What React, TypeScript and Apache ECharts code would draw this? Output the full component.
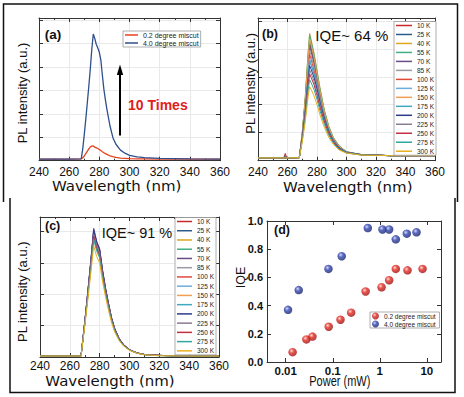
import React, { useEffect, useRef } from "react";
import * as echarts from "echarts";

const FONT = "Liberation Sans, Arial, sans-serif";
const WIDE = "DejaVu Sans, Verdana, sans-serif";

// ---------- panel (a) ----------
const WL_A = [240, 250, 260, 268, 269, 270, 271, 272, 273, 274, 275, 276, 277, 278, 279, 280, 281, 282, 283, 284, 285, 287, 289, 291, 294, 297, 300, 305, 310, 320, 340, 360];
const MISCUT_02 = [0.07, 0.07, 0.07, 0.08, 0.12, 0.2, 0.3, 0.4, 0.5, 0.58, 0.63, 0.62, 0.58, 0.55, 0.52, 0.48, 0.43, 0.38, 0.34, 0.3, 0.27, 0.21, 0.17, 0.14, 0.11, 0.1, 0.09, 0.08, 0.08, 0.07, 0.07, 0.07];
const MISCUT_40 = [0.07, 0.07, 0.07, 0.08, 0.5, 1.1, 1.75, 2.45, 3.15, 3.9, 4.75, 5.4, 5.2, 4.95, 4.8, 4.62, 4.3, 3.65, 3.05, 2.6, 2.2, 1.5, 0.98, 0.7, 0.45, 0.32, 0.23, 0.16, 0.13, 0.1, 0.08, 0.07];
const NAME_02 = "0.2 degree miscut";
const NAME_40 = "4.0 degree miscut";

// ---------- temperatures (b, c) ----------
const TEMPS = ["10 K", "25 K", "40 K", "55 K", "70 K", "85 K", "100 K", "125 K", "150 K", "175 K", "200 K", "225 K", "250 K", "275 K", "300 K"];
const TEMP_COLORS = ["#c8282a", "#2a5c8a", "#d8a820", "#40b080", "#6a4c88", "#9a9aa6", "#e04a3a", "#6aaee0", "#f0a050", "#40a8c0", "#2c3a8c", "#8a7a90", "#c03040", "#30a8a0", "#e8b020"];

// ---------- panel (b) ----------
const WL_B = [240, 257.5, 258.5, 259.5, 268, 270, 272, 274, 275, 276, 278, 280, 282, 285, 288, 291, 295, 300, 310, 330, 360];
const B_10K = [0.10, 0.10, 0.26, 0.10, 0.11, 0.93, 2.07, 3.59, 4.20, 4.00, 3.55, 2.98, 2.41, 1.67, 1.14, 0.78, 0.50, 0.30, 0.21, 0.18, 0.18];
const B_25K = [0.10, 0.10, 0.18, 0.10, 0.11, 0.95, 2.12, 3.67, 4.30, 4.09, 3.63, 3.05, 2.47, 1.71, 1.17, 0.80, 0.51, 0.31, 0.21, 0.18, 0.18];
const B_40K = [0.10, 0.10, 0.10, 0.10, 0.11, 1.00, 2.24, 3.88, 4.55, 4.33, 3.84, 3.23, 2.61, 1.81, 1.23, 0.84, 0.53, 0.32, 0.22, 0.18, 0.18];
const B_55K = [0.10, 0.10, 0.10, 0.10, 0.11, 0.99, 2.22, 3.84, 4.50, 4.28, 3.80, 3.19, 2.58, 1.79, 1.22, 0.83, 0.53, 0.32, 0.22, 0.18, 0.18];
const B_70K = [0.10, 0.10, 0.10, 0.10, 0.11, 0.91, 2.03, 3.50, 4.10, 3.90, 3.46, 2.91, 2.35, 1.64, 1.12, 0.77, 0.49, 0.30, 0.21, 0.18, 0.18];
const B_85K = [0.10, 0.10, 0.10, 0.10, 0.11, 0.88, 1.95, 3.37, 3.95, 3.76, 3.34, 2.81, 2.27, 1.58, 1.08, 0.74, 0.48, 0.29, 0.21, 0.18, 0.18];
const B_100K = [0.10, 0.10, 0.10, 0.10, 0.11, 0.85, 1.88, 3.25, 3.80, 3.62, 3.21, 2.70, 2.19, 1.52, 1.04, 0.72, 0.46, 0.29, 0.21, 0.18, 0.18];
const B_125K = [0.10, 0.10, 0.10, 0.10, 0.11, 0.82, 1.81, 3.12, 3.65, 3.47, 3.08, 2.60, 2.10, 1.47, 1.01, 0.70, 0.45, 0.28, 0.20, 0.18, 0.18];
const B_150K = [0.10, 0.10, 0.10, 0.10, 0.11, 0.96, 2.15, 3.71, 4.35, 4.14, 3.67, 3.09, 2.49, 1.73, 1.18, 0.81, 0.51, 0.31, 0.21, 0.18, 0.18];
const B_175K = [0.10, 0.10, 0.10, 0.10, 0.11, 0.87, 1.83, 3.07, 3.55, 3.41, 3.10, 2.67, 2.18, 1.57, 1.08, 0.75, 0.47, 0.31, 0.22, 0.18, 0.18];
const B_200K = [0.10, 0.10, 0.10, 0.10, 0.11, 0.83, 1.76, 2.94, 3.40, 3.27, 2.97, 2.56, 2.09, 1.50, 1.04, 0.72, 0.46, 0.30, 0.22, 0.18, 0.18];
const B_225K = [0.10, 0.10, 0.10, 0.10, 0.11, 0.80, 1.68, 2.81, 3.25, 3.12, 2.84, 2.44, 2.00, 1.44, 1.00, 0.70, 0.44, 0.30, 0.21, 0.18, 0.18];
const B_250K = [0.10, 0.10, 0.10, 0.10, 0.11, 0.77, 1.61, 2.68, 3.10, 2.98, 2.71, 2.33, 1.91, 1.38, 0.96, 0.67, 0.43, 0.29, 0.21, 0.18, 0.18];
const B_275K = [0.10, 0.10, 0.10, 0.10, 0.11, 0.72, 1.51, 2.51, 2.90, 2.79, 2.54, 2.19, 1.79, 1.29, 0.90, 0.63, 0.41, 0.28, 0.21, 0.18, 0.18];
const B_300K = [0.10, 0.10, 0.10, 0.10, 0.11, 0.67, 1.38, 2.29, 2.65, 2.55, 2.32, 2.00, 1.64, 1.19, 0.83, 0.59, 0.38, 0.27, 0.20, 0.18, 0.18];
const B_SERIES = [B_10K, B_25K, B_40K, B_55K, B_70K, B_85K, B_100K, B_125K, B_150K, B_175K, B_200K, B_225K, B_250K, B_275K, B_300K];

// ---------- panel (c) ----------
const WL_C = [240, 260, 267.5, 270, 272, 274, 275, 276, 277, 278, 280, 282, 284, 286, 288, 290, 293, 296, 300, 305, 310, 320, 340, 360];
const C_10K = [0.03, 0.03, 0.03, 1.10, 2.02, 2.97, 3.48, 4.00, 3.80, 3.60, 3.37, 2.69, 2.13, 1.66, 1.22, 0.90, 0.59, 0.39, 0.23, 0.13, 0.08, 0.05, 0.03, 0.03];
const C_25K = [0.03, 0.03, 0.03, 1.12, 2.04, 3.01, 3.53, 4.05, 3.85, 3.65, 3.41, 2.72, 2.16, 1.68, 1.24, 0.91, 0.59, 0.39, 0.23, 0.13, 0.08, 0.05, 0.03, 0.03];
const C_40K = [0.03, 0.03, 0.03, 1.06, 1.94, 2.86, 3.35, 3.85, 3.66, 3.47, 3.24, 2.59, 2.05, 1.60, 1.18, 0.87, 0.57, 0.37, 0.22, 0.13, 0.08, 0.05, 0.03, 0.03];
const C_55K = [0.03, 0.03, 0.03, 1.10, 2.01, 2.95, 3.47, 3.98, 3.78, 3.59, 3.35, 2.68, 2.12, 1.65, 1.22, 0.90, 0.58, 0.39, 0.23, 0.13, 0.08, 0.05, 0.03, 0.03];
const C_70K = [0.03, 0.03, 0.03, 1.13, 2.07, 3.04, 3.57, 4.10, 3.90, 3.69, 3.45, 2.76, 2.19, 1.70, 1.25, 0.93, 0.60, 0.40, 0.23, 0.13, 0.08, 0.05, 0.03, 0.03];
const C_85K = [0.03, 0.03, 0.03, 1.09, 1.99, 2.93, 3.44, 3.95, 3.75, 3.56, 3.32, 2.66, 2.11, 1.64, 1.21, 0.89, 0.58, 0.38, 0.23, 0.13, 0.08, 0.05, 0.03, 0.03];
const C_100K = [0.03, 0.03, 0.03, 1.09, 1.98, 2.92, 3.42, 3.93, 3.74, 3.54, 3.31, 2.64, 2.10, 1.63, 1.20, 0.89, 0.58, 0.38, 0.23, 0.13, 0.08, 0.05, 0.03, 0.03];
const C_125K = [0.03, 0.03, 0.03, 1.07, 1.97, 2.89, 3.40, 3.90, 3.71, 3.51, 3.28, 2.62, 2.08, 1.62, 1.19, 0.88, 0.57, 0.38, 0.22, 0.13, 0.08, 0.05, 0.03, 0.03];
const C_150K = [0.03, 0.03, 0.03, 1.05, 1.92, 2.82, 3.31, 3.80, 3.61, 3.42, 3.20, 2.56, 2.03, 1.58, 1.16, 0.86, 0.56, 0.37, 0.22, 0.12, 0.08, 0.05, 0.03, 0.03];
const C_175K = [0.03, 0.03, 0.03, 1.06, 1.94, 2.86, 3.36, 3.85, 3.66, 3.47, 3.25, 2.59, 2.05, 1.60, 1.18, 0.87, 0.57, 0.37, 0.22, 0.13, 0.08, 0.05, 0.03, 0.03];
const C_200K = [0.03, 0.03, 0.03, 1.12, 2.04, 3.01, 3.53, 4.05, 3.86, 3.66, 3.42, 2.73, 2.16, 1.68, 1.24, 0.91, 0.59, 0.39, 0.23, 0.13, 0.08, 0.05, 0.03, 0.03];
const C_225K = [0.03, 0.03, 0.03, 1.07, 1.97, 2.89, 3.40, 3.90, 3.71, 3.52, 3.29, 2.62, 2.08, 1.62, 1.19, 0.88, 0.57, 0.38, 0.22, 0.13, 0.08, 0.05, 0.03, 0.03];
const C_250K = [0.03, 0.03, 0.03, 1.06, 1.94, 2.85, 3.35, 3.85, 3.65, 3.46, 3.23, 2.58, 2.04, 1.59, 1.17, 0.86, 0.56, 0.37, 0.22, 0.12, 0.08, 0.05, 0.03, 0.03];
const C_275K = [0.03, 0.03, 0.03, 1.03, 1.89, 2.78, 3.27, 3.75, 3.56, 3.38, 3.15, 2.52, 2.00, 1.56, 1.15, 0.85, 0.55, 0.36, 0.22, 0.12, 0.07, 0.04, 0.03, 0.03];
const C_300K = [0.03, 0.03, 0.03, 0.98, 1.79, 2.64, 3.09, 3.55, 3.37, 3.20, 2.99, 2.39, 1.90, 1.47, 1.09, 0.80, 0.52, 0.35, 0.21, 0.12, 0.07, 0.04, 0.03, 0.03];
const C_SERIES = [C_10K, C_25K, C_40K, C_55K, C_70K, C_85K, C_100K, C_125K, C_150K, C_175K, C_200K, C_225K, C_250K, C_275K, C_300K];

// ---------- panel (d) ----------
const POWER_02 = [0.014, 0.0275, 0.037, 0.082, 0.146, 0.246, 0.5, 1.09, 1.58, 2.19, 3.88, 8.1];
const IQE_02 = [0.07, 0.16, 0.18, 0.25, 0.3, 0.35, 0.5, 0.53, 0.58, 0.66, 0.65, 0.66];
const POWER_40 = [0.0112, 0.0189, 0.081, 0.155, 0.556, 1.14, 1.58, 2.19, 3.75, 6.03];
const IQE_40 = [0.37, 0.51, 0.66, 0.75, 0.95, 0.94, 0.94, 0.87, 0.91, 0.92];

const AXIS_COLOR = "#333";

function ballColor(light: string, mid: string, dark: string) {
  return {
    type: "radial", x: 0.38, y: 0.35, r: 0.75,
    colorStops: [
      { offset: 0, color: light },
      { offset: 0.35, color: mid },
      { offset: 1, color: dark },
    ],
  };
}
const RED_BALL = ballColor("#ffd6d0", "#e42a22", "#8a0c0c");
const BLUE_BALL = ballColor("#c9d2ff", "#3346b0", "#121a5e");

function wlAxis(grid: number, pos: string, margin: number) {
  const bottom = pos === "bottom";
  return {
    type: "value", gridIndex: grid, position: pos, min: 240, max: 360, interval: 20,
    axisLine: { show: true, onZero: false, lineStyle: { color: AXIS_COLOR, width: 1 } },
    axisTick: { show: true, inside: true, length: 4, lineStyle: { color: AXIS_COLOR } },
    minorTick: { show: true, splitNumber: 2, length: 2, lineStyle: { color: AXIS_COLOR } },
    axisLabel: { show: bottom, margin, fontSize: 12, color: "#111", fontFamily: FONT },
    splitLine: { show: bottom, lineStyle: { color: "#e9e9e9", width: 1 } },
  };
}

function intAxis(grid: number, pos: string, max: number) {
  const left = pos === "left";
  return {
    type: "value", gridIndex: grid, position: pos, min: 0, max, interval: 1,
    axisLine: { show: true, onZero: false, lineStyle: { color: AXIS_COLOR, width: 1 } },
    axisTick: { show: true, inside: true, length: 4, lineStyle: { color: AXIS_COLOR } },
    axisLabel: { show: false },
    splitLine: { show: left, lineStyle: { color: "#e9e9e9", width: 1 } },
  };
}

function powerAxis(pos: string) {
  const bottom = pos === "bottom";
  return {
    type: "log", logBase: 10, gridIndex: 3, position: pos, min: 0.004, max: 20,
    axisLine: { show: true, onZero: false, lineStyle: { color: AXIS_COLOR, width: 1 } },
    axisTick: { show: true, inside: true, length: 4, lineStyle: { color: AXIS_COLOR } },
    axisLabel: {
      show: bottom, margin: 3, fontSize: 11.5, fontWeight: "bold", color: "#111", fontFamily: FONT,
      showMinLabel: false, showMaxLabel: false,
      formatter: (v: number) => {
        const e = Math.log10(v);
        const r = Math.round(e);
        if (Math.abs(e - r) > 1e-6) return "";
        return r < 0 ? Math.pow(10, r).toFixed(-r) : String(Math.round(Math.pow(10, r)));
      },
    },
    splitLine: { show: false },
  };
}

function iqeAxis(pos: string) {
  const left = pos === "left";
  return {
    type: "value", gridIndex: 3, position: pos, min: 0, max: 1, interval: 0.2,
    axisLine: { show: true, onZero: false, lineStyle: { color: AXIS_COLOR, width: 1 } },
    axisTick: { show: true, inside: true, length: 4, lineStyle: { color: AXIS_COLOR } },
    axisLabel: {
      show: left, margin: 4, fontSize: 11, fontWeight: "bold", color: "#111", fontFamily: FONT,
      formatter: (v: number) => v.toFixed(1),
    },
    splitLine: { show: false },
  };
}

function txt(text: string, x: number, y: number, size: number, extra: any = {}, font = FONT) {
  const { rotation, scaleX, scaleY, ...style } = extra;
  const el: any = {
    type: "text", x, y, z: 100,
    style: {
      text, fontSize: size, fontFamily: font, fill: "#111",
      align: "left", textAlign: "left", verticalAlign: "middle", textVerticalAlign: "middle",
      ...style,
    },
  };
  if (rotation !== undefined) el.rotation = rotation;
  if (scaleX !== undefined) el.scaleX = scaleX;
  if (scaleY !== undefined) el.scaleY = scaleY;
  return el;
}
const CENTER = { align: "center", textAlign: "center" };

function tempLegend(left: number, top: number, gap: number, iw: number) {
  return {
    data: TEMPS, left, top, orient: "vertical", icon: "rect", itemWidth: iw, itemHeight: 1.5,
    itemGap: gap, padding: [0.5, 2, 0.5, 2], borderColor: "#999", borderWidth: 0.8,
    backgroundColor: "#fff", selectedMode: false,
    textStyle: { fontSize: 6.5, lineHeight: 7, color: "#222", fontFamily: FONT, width: 17, align: "right" },
  };
}

export default function App() {
  const ref = useRef<HTMLDivElement>(null);
  useEffect(() => {
    if (!ref.current) return;
    document.body.style.margin = "0";
    const chart = echarts.init(ref.current, null, { renderer: "svg" });

    const series: any[] = [];
    series.push({
      type: "line", name: NAME_02, xAxisIndex: 0, yAxisIndex: 0, showSymbol: false, color: "#e8401c",
      lineStyle: { width: 1.3 }, data: WL_A.map((w, i) => [w, MISCUT_02[i]]),
    });
    series.push({
      type: "line", name: NAME_40, xAxisIndex: 0, yAxisIndex: 0, showSymbol: false, color: "#2f4f8f",
      lineStyle: { width: 1.3 }, data: WL_A.map((w, i) => [w, MISCUT_40[i]]),
    });
    TEMPS.forEach((t, k) => {
      series.push({
        type: "line", name: t, xAxisIndex: 2, yAxisIndex: 2, showSymbol: false, color: TEMP_COLORS[k],
        lineStyle: { width: 1 }, data: WL_B.map((w, i) => [w, B_SERIES[k][i]]),
      });
    });
    TEMPS.forEach((t, k) => {
      series.push({
        type: "line", name: t, xAxisIndex: 4, yAxisIndex: 4, showSymbol: false, color: TEMP_COLORS[k],
        lineStyle: { width: 1 }, data: WL_C.map((w, i) => [w, C_SERIES[k][i]]),
      });
    });
    series.push({
      type: "scatter", name: NAME_02 + " ", xAxisIndex: 6, yAxisIndex: 6, symbolSize: 8.5,
      itemStyle: { color: RED_BALL }, data: POWER_02.map((p, i) => [p, IQE_02[i]]),
    });
    series.push({
      type: "scatter", name: NAME_40 + " ", xAxisIndex: 6, yAxisIndex: 6, symbolSize: 8.5,
      itemStyle: { color: BLUE_BALL }, data: POWER_40.map((p, i) => [p, IQE_40[i]]),
    });

    const option: any = {
      animation: false,
      backgroundColor: "#fff",
      textStyle: { fontFamily: FONT },
      grid: [
        { left: 39, top: 18, width: 181, height: 142.7 },
        { left: 258, top: 18, width: 177, height: 142.7 },
        { left: 40, top: 217, width: 179, height: 140 },
        { left: 267, top: 221, width: 174, height: 141 },
      ],
      xAxis: [
        wlAxis(0, "bottom", 5.5), wlAxis(0, "top", 5.5),
        wlAxis(1, "bottom", 5.5), wlAxis(1, "top", 5.5),
        wlAxis(2, "bottom", 3.3), wlAxis(2, "top", 3.3),
        powerAxis("bottom"), powerAxis("top"),
      ],
      yAxis: [
        intAxis(0, "left", 6.08), intAxis(0, "right", 6.08),
        intAxis(1, "left", 5.1), intAxis(1, "right", 5.1),
        intAxis(2, "left", 4.46), intAxis(2, "right", 4.46),
        iqeAxis("left"), iqeAxis("right"),
      ],
      legend: [
        {
          data: [NAME_02, NAME_40], left: 123, top: 31, orient: "vertical", icon: "rect",
          itemWidth: 13, itemHeight: 1.5, itemGap: 1, padding: [0.5, 2, 0.5, 2],
          borderColor: "#999", borderWidth: 0.8, backgroundColor: "#fff", selectedMode: false,
          textStyle: { fontSize: 7, lineHeight: 7, color: "#222", fontFamily: FONT },
        },
        tempLegend(394, 21.5, 1.98, 16),
        tempLegend(175, 217.5, 2.24, 15),
        {
          data: [
            { name: NAME_02 + " ", icon: "circle", itemStyle: { color: RED_BALL } },
            { name: NAME_40 + " ", icon: "circle", itemStyle: { color: BLUE_BALL } },
          ],
          left: 370, top: 312, orient: "vertical", itemWidth: 7, itemHeight: 7, itemGap: 1,
          padding: [0.5, 2, 0.5, 2], borderColor: "#999", borderWidth: 0.8, backgroundColor: "#fff",
          selectedMode: false,
          textStyle: { fontSize: 6.5, lineHeight: 7, color: "#222", fontFamily: FONT },
        },
      ],
      series,
      graphic: [
        // outer frames
        { type: "polyline", z: 100, shape: { points: [[3.5, 202], [3.5, 4], [457.5, 4], [457.5, 202]] }, style: { stroke: "#111", lineWidth: 1.5, fill: null } },
        { type: "polyline", z: 100, shape: { points: [[10, 198], [10, 392.5], [455, 392.5], [455, 198]] }, style: { stroke: "#111", lineWidth: 1.5, fill: null } },
        // panel labels
        txt("(a)", 44.7, 34, 13.5, { fontWeight: "bold" }),
        txt("(b)", 262, 34, 12.5, { fontWeight: "bold" }),
        txt("(c)", 45, 226, 12.5, { fontWeight: "bold" }),
        txt("(d)", 274, 230, 12.5, { fontWeight: "bold" }),
        // annotations
        txt("10 Times", 128, 105, 14, { fontWeight: "bold", fill: "#e0201c" }),
        { type: "line", z: 100, shape: { x1: 120, y1: 135.5, x2: 120, y2: 72 }, style: { stroke: "#000", lineWidth: 2 } },
        { type: "polygon", z: 100, shape: { points: [[116.8, 75], [123.2, 75], [120, 64.5]] }, style: { fill: "#000" } },
        txt("IQE~ 64 %", 315.3, 35.3, 15),
        txt("IQE~ 91 %", 101.7, 233.3, 14.5),
        // axis titles
        txt("Wavelength (nm)", 116.7, 186, 15, { ...CENTER, scaleY: 0.9 }, WIDE),
        txt("Wavelength (nm)", 347.8, 187.5, 15, { ...CENTER, scaleY: 0.9 }, WIDE),
        txt("Wavelength (nm)", 110, 381, 15, { ...CENTER, scaleY: 0.9 }, WIDE),
        txt("Power (mW)", 339.8, 381.7, 11, { ...CENTER, scaleY: 1.25 }),
        txt("PL intensity (a.u.)", 22, 93, 13, { ...CENTER, rotation: Math.PI / 2 }),
        txt("PL intensity (a.u.)", 250.5, 83.3, 13, { ...CENTER, rotation: Math.PI / 2 }),
        txt("PL intensity (a.u.)", 22, 291.7, 13, { ...CENTER, rotation: Math.PI / 2 }),
        txt("IQE", 241.2, 277.5, 12.5, { ...CENTER, rotation: Math.PI / 2 }),
      ],
    };
    chart.setOption(option);
    return () => chart.dispose();
  }, []);
  return <div ref={ref} style={{ position: "fixed", left: 0, top: 0, width: 464, height: 397, background: "#fff" }} />;
}
